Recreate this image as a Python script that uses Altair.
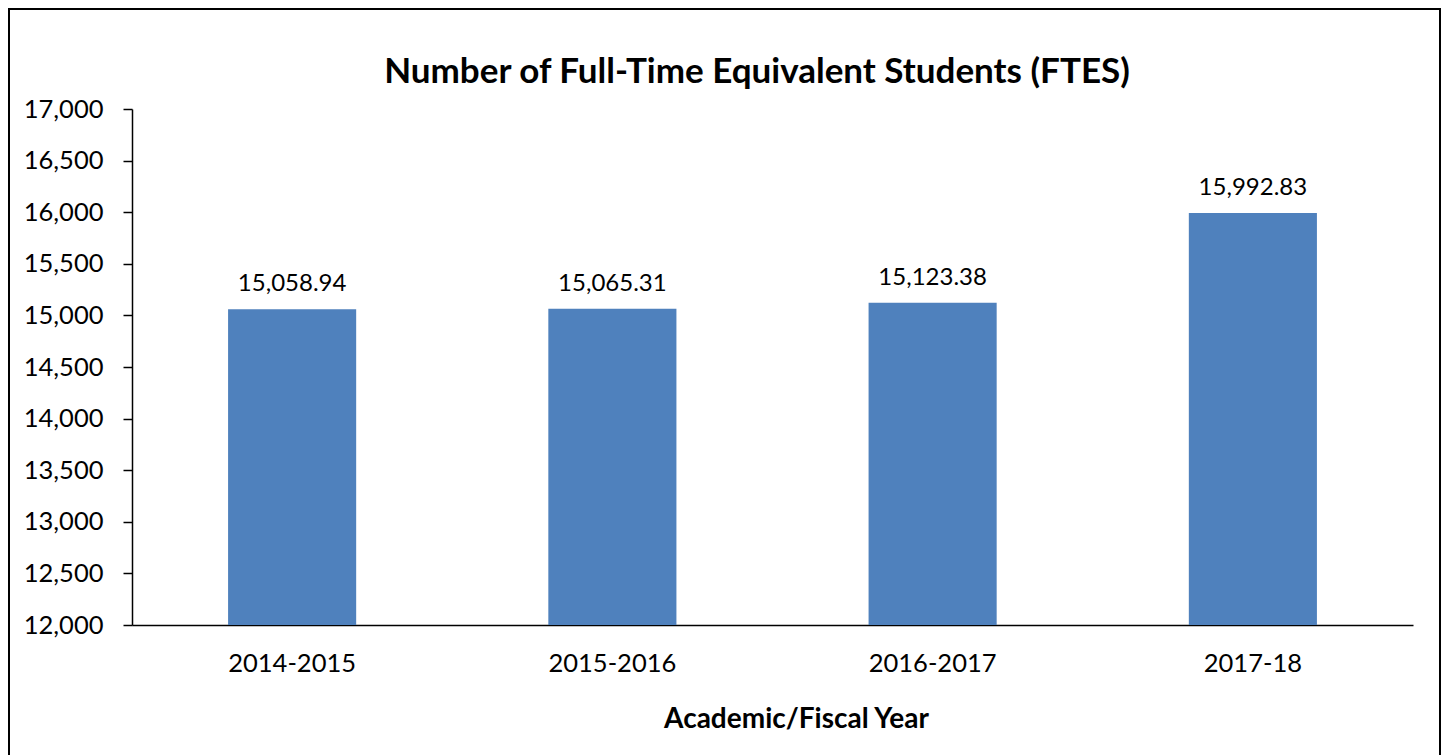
import altair as alt
import pandas as pd

years = ["2014-2015", "2015-2016", "2016-2017", "2017-18"]
ftes = [15058.94, 15065.31, 15123.38, 15992.83]
y_ticks = [12000, 12500, 13000, 13500, 14000, 14500, 15000, 15500, 16000, 16500, 17000]
title_text = "Number of Full-Time Equivalent Students (FTES)"

df = pd.DataFrame({"year": years, "ftes": ftes})
FONT = "Lato"

base = alt.Chart(df)

bars = base.mark_bar(color="#4F81BD", clip=True).encode(
    x=alt.X("year:N", sort=years,
            scale=alt.Scale(paddingInner=0.6, paddingOuter=0.3),
            axis=alt.Axis(title="Academic/Fiscal Year", labelAngle=0, ticks=False,
                          labelPadding=26, titlePadding=29, titleX=664, titleAlign="center",
                          labelFontSize=25.5, titleFontSize=28, titleFontWeight="bold",
                          labelColor="black", titleColor="black", domainColor="black",
                          labelFont=FONT, titleFont=FONT, domainWidth=1.5)),
    y=alt.Y("ftes:Q", scale=alt.Scale(domain=[12000, 17000], zero=False),
            axis=alt.Axis(title=None, values=y_ticks, format=",d", grid=False,
                          tickSize=9, labelPadding=20, labelFontSize=25.5, labelColor="black",
                          tickColor="black", domainColor="black", labelFont=FONT,
                          domainWidth=1.5, tickWidth=1.5)),
)

labels = base.mark_text(dy=-18, baseline="alphabetic", fontSize=24, font=FONT, color="black").encode(
    x=alt.X("year:N", sort=years),
    y="ftes:Q",
    text=alt.Text("ftes:Q", format=",.2f"),
)

title = alt.Chart(pd.DataFrame({"t": [title_text]})).mark_text(
    fontSize=35, font=FONT, fontWeight="bold", color="black", align="center", baseline="alphabetic"
).encode(x=alt.value(625), y=alt.value(-26), text="t:N")

border = alt.Chart(df).mark_rect(fill=None, stroke="black", strokeWidth=2, clip=False).encode(
    x=alt.value(-123), x2=alt.value(1308), y=alt.value(-100), y2=alt.value(660)
)

chart = alt.layer(bars, labels, title, border).properties(
    width=1281, height=516,
    padding={"left": 124, "top": 101, "right": 28, "bottom": 130},
    autosize=alt.AutoSizeParams(type="none"),
    background="white",
).configure_view(stroke=None, strokeWidth=0)

chart.save("out.html", embed_options={"renderer": "svg", "actions": False})
